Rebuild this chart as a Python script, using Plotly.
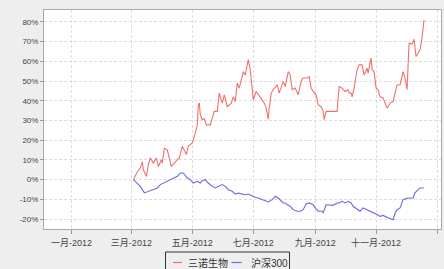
import plotly.graph_objects as go

# ---------------- data ----------------
red_dates = ["2012-03-03","2012-03-07","2012-03-10","2012-03-12","2012-03-13","2012-03-16","2012-03-18","2012-03-20",
    "2012-03-23","2012-03-26","2012-03-28","2012-03-31","2012-04-01","2012-04-03","2012-04-06","2012-04-10",
    "2012-04-14","2012-04-18","2012-04-21","2012-04-23","2012-04-25","2012-04-27","2012-04-29","2012-05-01",
    "2012-05-04","2012-05-06","2012-05-07","2012-05-08","2012-05-09","2012-05-11","2012-05-13","2012-05-15",
    "2012-05-19","2012-05-21","2012-05-23","2012-05-26","2012-05-28","2012-05-31","2012-06-02","2012-06-05",
    "2012-06-09","2012-06-11","2012-06-13","2012-06-15","2012-06-17","2012-06-20","2012-06-21","2012-06-23",
    "2012-06-26","2012-06-28","2012-06-30","2012-07-01","2012-07-04","2012-07-08","2012-07-10","2012-07-12",
    "2012-07-14","2012-07-16","2012-07-17","2012-07-19","2012-07-21","2012-07-25","2012-07-27","2012-07-31",
    "2012-08-02","2012-08-05","2012-08-07","2012-08-09","2012-08-12","2012-08-15","2012-08-18","2012-08-20",
    "2012-08-24","2012-08-26","2012-08-28","2012-08-30","2012-09-02","2012-09-04","2012-09-07","2012-09-09",
    "2012-09-10","2012-09-12","2012-09-23","2012-09-25","2012-09-28","2012-10-01","2012-10-04","2012-10-05",
    "2012-10-07","2012-10-08","2012-10-10","2012-10-13","2012-10-15","2012-10-18","2012-10-20","2012-10-23",
    "2012-10-24","2012-10-27","2012-10-28","2012-10-30","2012-11-01","2012-11-03","2012-11-05","2012-11-08",
    "2012-11-12","2012-11-13","2012-11-15","2012-11-18","2012-11-20","2012-11-22","2012-11-25","2012-11-26",
    "2012-11-28","2012-11-30","2012-12-02","2012-12-04","2012-12-07","2012-12-09","2012-12-11","2012-12-13",
    "2012-12-15","2012-12-17","2012-12-19"]
red_values = [0,4,6,9,5,1.7,7.6,11,
    8.4,11,6.7,10,8.4,16,15,6.7,
    9,11,17,15,12.7,17,17.7,18.6,
    23.6,27.8,38,38.8,33,30.4,31,27.8,
    27.8,32,34.6,34.6,43.9,38.8,43,37,
    38.8,42,39.6,49,46.4,52.3,54.8,53,
    60.8,55.7,47.2,40.5,44.7,42,40.5,38.8,
    36.3,30.7,36.3,43.9,45.6,48,43.9,49.8,
    47.2,54.8,53,45.6,46.4,43,49.8,51.5,
    51.5,52.3,46.4,44.7,43,38,37,34.6,
    30.4,34.6,34.6,47.2,46.4,44.7,45.6,43.9,
    43.9,42,46.4,55.7,58.2,58.2,53,56.5,
    54,61.6,55.7,54.8,46.4,45.6,42,41.4,
    36.3,37,38.8,39.6,43.9,48,48,50.6,
    54.8,51.5,45.6,69.2,68.7,71.2,62.4,64.1,
    65.8,71.7,81]

blue_dates = ["2012-03-03","2012-03-07","2012-03-10","2012-03-14","2012-03-18","2012-03-22","2012-03-27","2012-03-30",
    "2012-04-02","2012-04-06","2012-04-09","2012-04-12","2012-04-16","2012-04-19","2012-04-22","2012-04-26",
    "2012-04-29","2012-05-02","2012-05-06","2012-05-09","2012-05-11","2012-05-14","2012-05-17","2012-05-21",
    "2012-05-24","2012-05-27","2012-05-31","2012-06-03","2012-06-06","2012-06-10","2012-06-13","2012-06-16",
    "2012-06-20","2012-06-23","2012-06-26","2012-06-30","2012-07-03","2012-07-06","2012-07-10","2012-07-13",
    "2012-07-16","2012-07-20","2012-07-23","2012-07-26","2012-07-30","2012-07-31","2012-08-02","2012-08-04",
    "2012-08-07","2012-08-10","2012-08-14","2012-08-17","2012-08-20","2012-08-23","2012-08-26","2012-08-30",
    "2012-09-01","2012-09-04","2012-09-08","2012-09-09","2012-09-12","2012-09-16","2012-09-19","2012-09-23",
    "2012-09-25","2012-09-28","2012-10-01","2012-10-04","2012-10-07","2012-10-09","2012-10-13","2012-10-16",
    "2012-10-19","2012-10-23","2012-10-26","2012-10-29","2012-11-02","2012-11-05","2012-11-08","2012-11-12",
    "2012-11-15","2012-11-18","2012-11-20","2012-11-22","2012-11-25","2012-11-28","2012-12-01","2012-12-04",
    "2012-12-08","2012-12-10","2012-12-12","2012-12-15","2012-12-19"]
blue_values = [0,-1.7,-3.4,-6.7,-5.9,-5.1,-4.2,-2.5,
    -1.7,-0.8,0,0.8,1.7,3.4,3.4,0.8,
    0,-1.7,-0.8,-1.7,-0.5,0,-1.7,-3.4,
    -4.2,-3.4,-2.5,-3.4,-5.1,-5.9,-7.3,-6.8,
    -7.3,-7.6,-7.3,-8.4,-8.9,-9.3,-10.1,-11,
    -11.3,-10.1,-8.4,-9.3,-11,-11.8,-11.8,-12.7,
    -13.5,-15.2,-16,-16,-15.2,-12.3,-11.8,-12.7,
    -14.3,-16,-16,-16.9,-12.7,-12.7,-13,-11.8,
    -11.8,-11,-11.8,-11,-11.8,-13.5,-15.2,-16,
    -14.3,-15.2,-16,-16.9,-17.7,-18.6,-18.1,-19.1,
    -19.7,-20.3,-16.9,-15.2,-14.3,-10.1,-9.6,-9.3,
    -9.3,-6.7,-5.6,-4.2,-4.2]

series_names = ["三诺生物", "沪深300"]
x_tick_dates = ["2012-01-01","2012-03-01","2012-05-01","2012-07-01","2012-09-01","2012-11-01","2013-01-01"]
x_tick_labels = ["一月-2012","三月-2012","五月-2012","七月-2012","九月-2012","十一月-2012","一月-2013"]
y_tick_values = [-20,-10,0,10,20,30,40,50,60,70,80]
y_tick_labels = ["-20%","-10%","0%","10%","20%","30%","40%","50%","60%","70%","80%"]

# ---------------- style ----------------
RED = "#f07070"
BLUE = "#6a6ae0"
W, H = 444, 269
ML, MR, MT, MB = 44, 3, 10, 40
PW, PH = W - ML - MR, H - MT - MB
FONT = "Liberation Sans, Arial, Noto Sans CJK SC, sans-serif"

def px(x):
    return (x - ML) / PW

def py(y):
    return (H - MB - y) / PH

fig = go.Figure()
fig.add_trace(go.Scatter(x=red_dates, y=red_values, mode="lines", name=series_names[0],
                         line=dict(color=RED, width=1.1), showlegend=False))
fig.add_trace(go.Scatter(x=blue_dates, y=blue_values, mode="lines", name=series_names[1],
                         line=dict(color=BLUE, width=1.1), showlegend=False))

# legend drawn as box + sample lines + text
shapes = [
    dict(type="rect", xref="paper", yref="paper", x0=px(165.5), x1=px(289.5), y0=py(252), y1=py(280),
         line=dict(color="#333333", width=1), fillcolor="#eeeeee", layer="below"),
    dict(type="line", xref="paper", yref="paper", x0=px(173), x1=px(182), y0=py(262.5), y1=py(262.5),
         line=dict(color=RED, width=1.2)),
    dict(type="line", xref="paper", yref="paper", x0=px(231.5), x1=px(241.5), y0=py(262.5), y1=py(262.5),
         line=dict(color=BLUE, width=1.2)),
]
annotations = [
    dict(text=series_names[0], xref="paper", yref="paper", x=px(185.5), y=py(262.5), xanchor="left",
         yanchor="middle", showarrow=False, font=dict(size=10, color="#333333", family=FONT)),
    dict(text=series_names[1], xref="paper", yref="paper", x=px(248.5), y=py(262.5), xanchor="left",
         yanchor="middle", showarrow=False, font=dict(size=10, color="#333333", family=FONT)),
]

fig.update_layout(
    width=W, height=H,
    margin=dict(l=ML, r=MR, t=MT, b=MB, autoexpand=False),
    paper_bgcolor="#eeeeee", plot_bgcolor="#ffffff",
    font=dict(family=FONT, size=8, color="#444444"),
    shapes=shapes, annotations=annotations,
    showlegend=False,
)
fig.update_xaxes(
    range=["2011-12-04 12:00", "2013-01-05"],
    tickmode="array", tickvals=x_tick_dates, ticktext=x_tick_labels,
    ticks="outside", ticklen=4, tickcolor="#999999",
    showgrid=True, gridcolor="#dddddd", griddash="3px,2px", gridwidth=1,
    showline=True, linecolor="#aaaaaa", linewidth=1, mirror=True,
    zeroline=False, tickfont=dict(size=9, color="#444444"), ticklabelstandoff=1,
)
fig.update_yaxes(
    range=[-25, 86],
    tickmode="array", tickvals=y_tick_values, ticktext=y_tick_labels,
    ticks="outside", ticklen=3, tickcolor="#999999",
    showgrid=True, gridcolor="#dddddd", griddash="3px,2px", gridwidth=1,
    showline=True, linecolor="#aaaaaa", linewidth=1, mirror=True,
    zeroline=False, tickfont=dict(size=8, color="#444444"),
)

fig.write_html("out.html", config={"displayModeBar": False},
               post_script="document.body.style.margin='0';document.body.style.overflow='hidden';")
